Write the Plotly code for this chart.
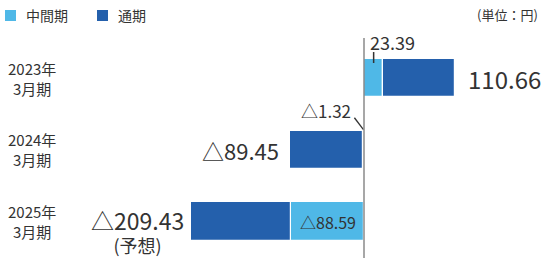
import plotly.graph_objects as go

# ---- data ----
categories = ["2023年3月期", "2024年3月期", "2025年3月期"]
category_labels = ["2023年<br>3月期", "2024年<br>3月期", "2025年<br>3月期"]
half_year = [23.39, -1.32, -88.59]          # 中間期
full_year = [110.66, -89.45, -209.43]       # 通期
half_labels = ["23.39", "△1.32", "△88.59"]
full_labels = ["110.66", "△89.45", "△209.43"]
forecast_note = "(予想)"
series_names = ["中間期", "通期"]
unit_label = "(単位：円)"

LIGHT = "#4FB8E7"
DARK = "#2460AC"
TXT = "#333333"
FONT = "Noto Sans CJK JP"

W, H = 549, 258
second_half = [f - h for f, h in zip(full_year, half_year)]

fig = go.Figure()
fig.add_trace(go.Bar(y=categories, x=half_year, orientation="h", name=series_names[0],
                     marker=dict(color=LIGHT, line=dict(color="white", width=1.2)),
                     width=0.53, showlegend=False, hoverinfo="skip"))
fig.add_trace(go.Bar(y=categories, x=second_half, orientation="h", name=series_names[1],
                     marker=dict(color=DARK, line=dict(color="white", width=1.2)),
                     width=0.53, showlegend=False, hoverinfo="skip"))

px_per_unit = 0.824
zero_px = 364
x_range = [-zero_px / px_per_unit, (W - zero_px) / px_per_unit]
cat_px = 71.75
first_center = 78
y_top = -first_center / cat_px
y_range = [y_top + H / cat_px, y_top]

ann = []
shapes = []
# category labels
for c, lab in zip(categories, category_labels):
    ann.append(dict(x=32 / W, xref="paper", y=c, yref="y", text=lab, showarrow=False,
                    xanchor="center", yanchor="middle", align="center",
                    font=dict(size=15, color=TXT, family=FONT)))

# full-year labels
ann.append(dict(x=full_year[0], y=categories[0], text=full_labels[0], showarrow=False,
                xanchor="left", xshift=11, font=dict(size=24, color=TXT, family=FONT)))
ann.append(dict(x=full_year[1], y=categories[1], text=full_labels[1], showarrow=False,
                xanchor="right", xshift=-9, font=dict(size=22, color=TXT, family=FONT)))
ann.append(dict(x=full_year[2], y=categories[2],
                text="<span style='font-size:23px'>" + full_labels[2] + "</span><br>" + forecast_note,
                showarrow=False, align="center", xanchor="right", yanchor="middle",
                xshift=-6, yshift=-9, borderpad=0,
                font=dict(size=18, color=TXT, family=FONT)))

# half-year labels
ann.append(dict(x=half_year[0] / 2, y=categories[0], text=half_labels[0], showarrow=False,
                xanchor="left", xshift=-6, yshift=36, font=dict(size=18, color=TXT, family=FONT)))
ann.append(dict(x=half_year[1], y=categories[1], text=half_labels[1], showarrow=False,
                xanchor="right", xshift=-10, yshift=39, font=dict(size=17, color=TXT, family=FONT)))
ann.append(dict(x=half_year[2] / 2, y=categories[2], text=half_labels[2], showarrow=False,
                xanchor="center", font=dict(size=16, color=TXT, family=FONT)))

# leader lines
shapes.append(dict(type="line", xref="x", yref="y", x0=half_year[0] / 2, x1=half_year[0] / 2,
                   y0=0 - 0.362, y1=0 - 0.209, line=dict(color=TXT, width=1.5)))
shapes.append(dict(type="line", xref="x", yref="y", x0=half_year[1] / 2 - 11, x1=half_year[1] / 2,
                   y0=1 - 0.446, y1=1 - 0.279, line=dict(color=TXT, width=1.3)))
# zero axis line
shapes.append(dict(type="line", xref="x", yref="paper", x0=0, x1=0, y0=0, y1=1 - 38 / H,
                   line=dict(color="#8a8a8a", width=1.5), layer="above"))

# manual legend
for i, (name, col) in enumerate(zip(series_names, [LIGHT, DARK])):
    x0 = [5, 97][i]
    shapes.append(dict(type="rect", xref="paper", yref="paper", x0=x0 / W, x1=(x0 + 11) / W,
                       y0=1 - 21 / H, y1=1 - 10 / H, fillcolor=col, line=dict(width=0)))
    ann.append(dict(x=(x0 + 19) / W, xref="paper", y=1 - 15.5 / H, yref="paper", text=name,
                    showarrow=False, xanchor="left", yanchor="middle",
                    font=dict(size=14, color=TXT, family=FONT)))
ann.append(dict(x=540 / W, xref="paper", y=1 - 15 / H, yref="paper", text=unit_label,
                showarrow=False, xanchor="right", yanchor="middle",
                font=dict(size=13, color=TXT, family=FONT)))

fig.update_layout(
    width=W, height=H, margin=dict(l=0, r=0, t=0, b=0),
    barmode="relative", bargap=0,
    plot_bgcolor="white", paper_bgcolor="white",
    xaxis=dict(range=x_range, visible=False, zeroline=False, showgrid=False, fixedrange=True),
    yaxis=dict(type="category", categoryarray=categories, categoryorder="array",
               range=y_range, visible=False, showgrid=False, zeroline=False, fixedrange=True),
    annotations=ann, shapes=shapes, showlegend=False,
    font=dict(family=FONT, color=TXT),
)

fig.write_html("out.html", config={"displayModeBar": False},
               post_script="document.body.style.margin='0';document.body.style.overflow='hidden';")
